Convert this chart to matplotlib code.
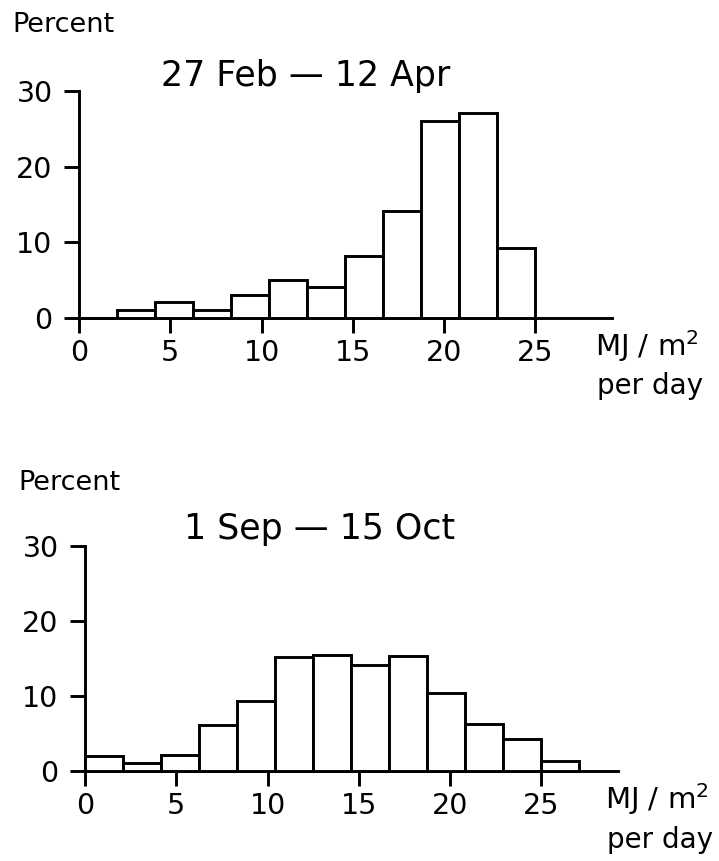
import matplotlib
matplotlib.use("Agg")
import matplotlib.pyplot as plt
import numpy as np

# ---- data ----
bin_width = 25 / 12
spring_values = [0, 1.1, 2.1, 1.1, 3.1, 5.0, 4.1, 8.2, 14.1, 26.1, 27.1, 9.2]
autumn_values = [2.0, 1.1, 2.2, 6.2, 9.3, 15.2, 15.5, 14.2, 15.4, 10.4, 6.3, 4.3, 1.3]
spring_title = "27 Feb \u2014 12 Apr"
autumn_title = "1 Sep \u2014 15 Oct"
x_ticks = [0, 5, 10, 15, 20, 25]
x_ticklabels = ["0", "5", "10", "15", "20", "25"]
y_ticks = [0, 10, 20, 30]
y_ticklabels = ["0", "10", "20", "30"]
y_label = "Percent"
x_unit = r"MJ / m$^{\mathregular{2}}$"
x_unit2 = "per day"

W, H = 719, 861
plt.rcParams['font.family'] = ['DejaVu Sans']
fig = plt.figure(figsize=(W / 100, H / 100), dpi=100)

LW = 2.1
TICK_FS = 20.5


def px_axes(left, bottom_px, right, top_px):
    return fig.add_axes([left / W, 1 - bottom_px / H, (right - left) / W, (bottom_px - top_px) / H])


def draw(ax, values):
    edges = np.arange(len(values)) * bin_width
    ax.bar(edges, values, width=bin_width, align='edge', facecolor='white',
           edgecolor='black', linewidth=LW, clip_on=False, zorder=3)
    ax.set_xlim(0, 29.2)
    ax.set_ylim(0, 30)
    for s in ['top', 'right']:
        ax.spines[s].set_visible(False)
    for s in ['left', 'bottom']:
        ax.spines[s].set_linewidth(LW)
    ax.set_xticks(x_ticks)
    ax.set_xticklabels(x_ticklabels, fontsize=TICK_FS)
    ax.set_yticks(y_ticks)
    ax.set_yticklabels(y_ticklabels, fontsize=TICK_FS)
    ax.tick_params(axis='x', direction='out', length=11, width=LW, pad=4)
    ax.tick_params(axis='y', direction='out', length=11, width=LW, pad=8)
    ax.patch.set_alpha(0)


ax1 = px_axes(79, 318, 612, 91)
draw(ax1, spring_values)
ax2 = px_axes(85, 771, 618, 546)
draw(ax2, autumn_values)

def t(x, y, s, **kw):
    fig.text(x / W, 1 - y / H, s, **kw)

t(12, 25, y_label, fontsize=19.5, ha='left', va='center')
t(306, 76, spring_title, fontsize=25, ha='center', va='center')
t(595, 346, x_unit, fontsize=21, ha='left', va='center')
t(597, 386, x_unit2, fontsize=20, ha='left', va='center')

t(18, 483, y_label, fontsize=19.5, ha='left', va='center')
t(320, 529, autumn_title, fontsize=25, ha='center', va='center')
t(605, 799, x_unit, fontsize=21, ha='left', va='center')
t(607, 840, x_unit2, fontsize=20, ha='left', va='center')

fig.savefig("out.png", dpi=100)
